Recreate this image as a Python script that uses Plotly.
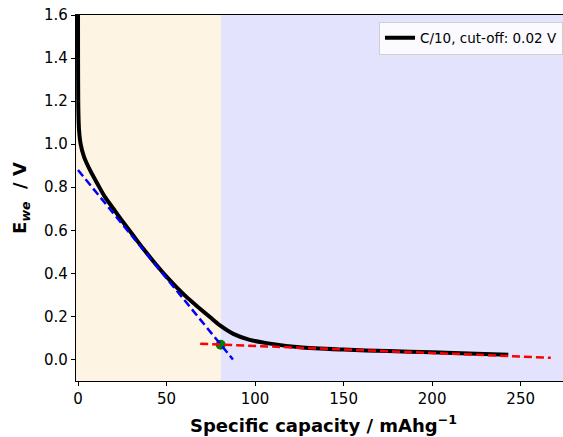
import plotly.graph_objects as go

# Galvanostatic curve (C/10, cut-off 0.02 V)
cap = [0, 0.2, 0.6, 1.5, 3.4, 6.8, 10.9, 15.2, 20, 25, 31, 37, 43, 50, 56, 62, 68.9,
       74.5, 80.2, 87.7, 97, 106.5, 125, 150, 175, 200, 225, 243]
volt = [1.75, 1.16, 1.065, 1.0, 0.941, 0.879, 0.817, 0.755, 0.70, 0.643, 0.578, 0.513,
        0.452, 0.385, 0.333, 0.285, 0.236, 0.197, 0.158, 0.119, 0.091, 0.076, 0.057,
        0.046, 0.039, 0.033, 0.027, 0.022]

# Tangent lines
blue_x = [0, 87.5]
blue_y = [0.88, 0.0]
red_x = [69, 267]
red_y = [0.073, 0.008]

# Intersection point
ix = [80.6]
iy = [0.068]

# Shaded regions
region1 = [0, 80.7]
region2 = [80.7, 300]

x_range = [-1.13, 273.9]
y_range = [-0.1, 1.6]
x_ticks = [0, 50, 100, 150, 200, 250]
y_ticks = [0.0, 0.2, 0.4, 0.6, 0.8, 1.0, 1.2, 1.4, 1.6]

fig = go.Figure()

fig.add_shape(type="rect", xref="x", yref="paper", x0=region1[0] - 5, x1=region1[1],
              y0=0, y1=1, fillcolor="#FDF4E4", line_width=0, layer="below")
fig.add_shape(type="rect", xref="x", yref="paper", x0=region2[0], x1=region2[1],
              y0=0, y1=1, fillcolor="#E3E3FE", line_width=0, layer="below")

fig.add_trace(go.Scatter(x=cap, y=volt, mode="lines", name="C/10, cut-off: 0.02 V",
                         line=dict(color="black", width=4, shape="spline", smoothing=0.8)))
fig.add_trace(go.Scatter(x=ix, y=iy, mode="markers", showlegend=False,
                         marker=dict(color="green", size=10, line=dict(width=0))))
fig.add_trace(go.Scatter(x=blue_x, y=blue_y, mode="lines", showlegend=False,
                         line=dict(color="blue", width=2.5, dash="8px,4px")))
fig.add_trace(go.Scatter(x=red_x, y=red_y, mode="lines", showlegend=False,
                         line=dict(color="red", width=2.5, dash="8px,4px")))

fig.add_annotation(text="<b>Specific capacity / mAhg<sup>−1</sup></b>",
                   xref="paper", yref="paper", x=0.509, y=-0.118,
                   xanchor="center", yanchor="middle", showarrow=False,
                   font=dict(size=18))

fig.update_layout(
    width=563, height=437,
    margin=dict(l=76, r=0, t=15, b=56),
    paper_bgcolor="white", plot_bgcolor="white",
    font=dict(family="DejaVu Sans", color="black", size=15),
    legend=dict(x=1, y=0.982, xanchor="right", yanchor="top",
                bgcolor="rgba(255,255,255,0.85)", bordercolor="#d0d0d0", borderwidth=1,
                font=dict(size=13.5), itemwidth=30),
    xaxis=dict(range=x_range, tickvals=x_ticks, showgrid=False, zeroline=False,
               showline=True, linecolor="black", linewidth=1.2, mirror=True,
               ticks="outside", ticklen=4, tickcolor="black"),
    yaxis=dict(range=y_range, tickvals=y_ticks, tickformat=".1f", showgrid=False,
               zeroline=False, showline=True, linecolor="black", linewidth=1.2,
               ticks="outside", ticklen=4, tickcolor="black",
               title=dict(text="<b>E<sub><i>we</i></sub>  / V</b>",
                          font=dict(size=18), standoff=12)),
)

fig.write_html("out.html")
